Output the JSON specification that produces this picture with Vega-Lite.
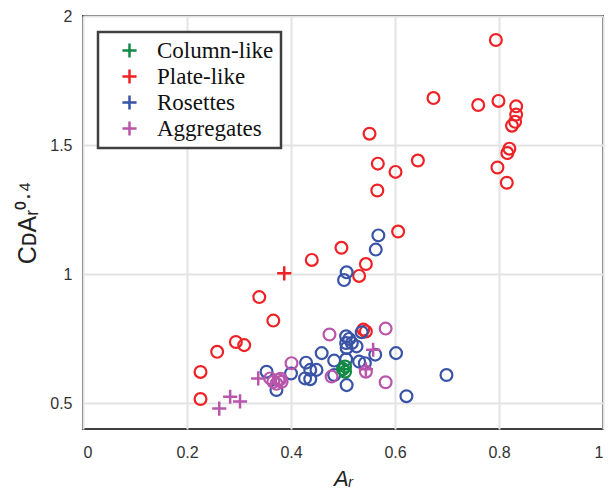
{
  "$schema": "https://vega.github.io/schema/vega-lite/v6.json",
  "autosize": {"type": "none"},
  "padding": {"left": 83, "top": 16, "right": 5, "bottom": 62},
  "width": 520,
  "height": 413,
  "background": "white",
  "config": {
    "view": {"stroke": "#404040", "strokeWidth": 2},
    "axis": {
      "grid": true,
      "gridColor": "#e3e3e3",
      "gridWidth": 2,
      "domain": false,
      "ticks": false,
      "format": "~g",
      "labelFont": "Liberation Sans",
      "labelFontSize": 16,
      "labelColor": "#333333",
      "titleFont": "Liberation Sans",
      "titleFontSize": 21,
      "titleFontWeight": "normal",
      "titleColor": "#222222"
    },
    "legend": {
      "orient": "none",
      "legendX": 15,
      "legendY": 16,
      "strokeColor": "#404040",
      "strokeWidth": 2.5,
      "fillColor": "white",
      "padding": 7,
      "symbolType": "M-1,0H1M0,-1V1",
      "symbolSize": 200,
      "symbolStrokeWidth": 2.5,
      "symbolFillColor": "transparent",
      "symbolOffset": 13,
      "labelFont": "Liberation Serif",
      "labelFontSize": 23,
      "labelColor": "#111111",
      "labelOffset": 16,
      "rowPadding": 1,
      "title": null
    }
  },
  "data": {"values": [
    {"x": 0.794, "y": 1.907, "type": "Plate-like", "m": "o"},
    {"x": 0.674, "y": 1.682, "type": "Plate-like", "m": "o"},
    {"x": 0.760, "y": 1.655, "type": "Plate-like", "m": "o"},
    {"x": 0.799, "y": 1.671, "type": "Plate-like", "m": "o"},
    {"x": 0.833, "y": 1.650, "type": "Plate-like", "m": "o"},
    {"x": 0.833, "y": 1.618, "type": "Plate-like", "m": "o"},
    {"x": 0.831, "y": 1.590, "type": "Plate-like", "m": "o"},
    {"x": 0.825, "y": 1.575, "type": "Plate-like", "m": "o"},
    {"x": 0.551, "y": 1.544, "type": "Plate-like", "m": "o"},
    {"x": 0.820, "y": 1.486, "type": "Plate-like", "m": "o"},
    {"x": 0.816, "y": 1.469, "type": "Plate-like", "m": "o"},
    {"x": 0.567, "y": 1.428, "type": "Plate-like", "m": "o"},
    {"x": 0.644, "y": 1.440, "type": "Plate-like", "m": "o"},
    {"x": 0.601, "y": 1.396, "type": "Plate-like", "m": "o"},
    {"x": 0.797, "y": 1.413, "type": "Plate-like", "m": "o"},
    {"x": 0.566, "y": 1.324, "type": "Plate-like", "m": "o"},
    {"x": 0.815, "y": 1.354, "type": "Plate-like", "m": "o"},
    {"x": 0.606, "y": 1.165, "type": "Plate-like", "m": "o"},
    {"x": 0.497, "y": 1.102, "type": "Plate-like", "m": "o"},
    {"x": 0.440, "y": 1.055, "type": "Plate-like", "m": "o"},
    {"x": 0.544, "y": 1.039, "type": "Plate-like", "m": "o"},
    {"x": 0.531, "y": 0.993, "type": "Plate-like", "m": "o"},
    {"x": 0.339, "y": 0.911, "type": "Plate-like", "m": "o"},
    {"x": 0.366, "y": 0.820, "type": "Plate-like", "m": "o"},
    {"x": 0.294, "y": 0.737, "type": "Plate-like", "m": "o"},
    {"x": 0.310, "y": 0.725, "type": "Plate-like", "m": "o"},
    {"x": 0.258, "y": 0.699, "type": "Plate-like", "m": "o"},
    {"x": 0.226, "y": 0.621, "type": "Plate-like", "m": "o"},
    {"x": 0.226, "y": 0.516, "type": "Plate-like", "m": "o"},
    {"x": 0.539, "y": 0.785, "type": "Plate-like", "m": "o"},
    {"x": 0.544, "y": 0.778, "type": "Plate-like", "m": "o"},
    {"x": 0.387, "y": 1.003, "type": "Plate-like", "m": "+"},
    {"x": 0.568, "y": 1.150, "type": "Rosettes", "m": "o"},
    {"x": 0.563, "y": 1.095, "type": "Rosettes", "m": "o"},
    {"x": 0.507, "y": 1.007, "type": "Rosettes", "m": "o"},
    {"x": 0.502, "y": 0.977, "type": "Rosettes", "m": "o"},
    {"x": 0.536, "y": 0.775, "type": "Rosettes", "m": "o"},
    {"x": 0.506, "y": 0.759, "type": "Rosettes", "m": "o"},
    {"x": 0.512, "y": 0.749, "type": "Rosettes", "m": "o"},
    {"x": 0.506, "y": 0.733, "type": "Rosettes", "m": "o"},
    {"x": 0.517, "y": 0.733, "type": "Rosettes", "m": "o"},
    {"x": 0.526, "y": 0.720, "type": "Rosettes", "m": "o"},
    {"x": 0.507, "y": 0.714, "type": "Rosettes", "m": "o"},
    {"x": 0.562, "y": 0.688, "type": "Rosettes", "m": "o"},
    {"x": 0.602, "y": 0.694, "type": "Rosettes", "m": "o"},
    {"x": 0.459, "y": 0.694, "type": "Rosettes", "m": "o"},
    {"x": 0.483, "y": 0.665, "type": "Rosettes", "m": "o"},
    {"x": 0.506, "y": 0.670, "type": "Rosettes", "m": "o"},
    {"x": 0.531, "y": 0.661, "type": "Rosettes", "m": "o"},
    {"x": 0.542, "y": 0.655, "type": "Rosettes", "m": "o"},
    {"x": 0.507, "y": 0.570, "type": "Rosettes", "m": "o"},
    {"x": 0.622, "y": 0.527, "type": "Rosettes", "m": "o"},
    {"x": 0.699, "y": 0.609, "type": "Rosettes", "m": "o"},
    {"x": 0.429, "y": 0.657, "type": "Rosettes", "m": "o"},
    {"x": 0.437, "y": 0.629, "type": "Rosettes", "m": "o"},
    {"x": 0.449, "y": 0.629, "type": "Rosettes", "m": "o"},
    {"x": 0.427, "y": 0.596, "type": "Rosettes", "m": "o"},
    {"x": 0.437, "y": 0.593, "type": "Rosettes", "m": "o"},
    {"x": 0.353, "y": 0.622, "type": "Rosettes", "m": "o"},
    {"x": 0.372, "y": 0.551, "type": "Rosettes", "m": "o"},
    {"x": 0.400, "y": 0.615, "type": "Rosettes", "m": "o"},
    {"x": 0.483, "y": 0.609, "type": "Rosettes", "m": "o"},
    {"x": 0.474, "y": 0.766, "type": "Aggregates", "m": "o"},
    {"x": 0.582, "y": 0.789, "type": "Aggregates", "m": "o"},
    {"x": 0.401, "y": 0.655, "type": "Aggregates", "m": "o"},
    {"x": 0.478, "y": 0.603, "type": "Aggregates", "m": "o"},
    {"x": 0.544, "y": 0.622, "type": "Aggregates", "m": "o"},
    {"x": 0.582, "y": 0.581, "type": "Aggregates", "m": "o"},
    {"x": 0.360, "y": 0.596, "type": "Aggregates", "m": "o"},
    {"x": 0.376, "y": 0.590, "type": "Aggregates", "m": "o"},
    {"x": 0.382, "y": 0.583, "type": "Aggregates", "m": "o"},
    {"x": 0.366, "y": 0.583, "type": "Aggregates", "m": "o"},
    {"x": 0.372, "y": 0.575, "type": "Aggregates", "m": "o"},
    {"x": 0.380, "y": 0.595, "type": "Aggregates", "m": "o"},
    {"x": 0.558, "y": 0.707, "type": "Aggregates", "m": "+"},
    {"x": 0.544, "y": 0.631, "type": "Aggregates", "m": "+"},
    {"x": 0.337, "y": 0.596, "type": "Aggregates", "m": "+"},
    {"x": 0.283, "y": 0.525, "type": "Aggregates", "m": "+"},
    {"x": 0.302, "y": 0.507, "type": "Aggregates", "m": "+"},
    {"x": 0.262, "y": 0.479, "type": "Aggregates", "m": "+"},
    {"x": 0.504, "y": 0.642, "type": "Column-like", "m": "o"},
    {"x": 0.504, "y": 0.622, "type": "Column-like", "m": "o"},
    {"x": 0.500, "y": 0.632, "type": "Column-like", "m": "o"},
    {"x": 0.502, "y": 0.631, "type": "Column-like", "m": "+"}
  ]},
  "encoding": {
    "x": {
      "field": "x", "type": "quantitative",
      "scale": {"domain": [0, 1], "nice": false, "zero": false},
      "axis": {"values": [0, 0.2, 0.4, 0.6, 0.8, 1], "title": "Aᵣ", "titleFontStyle": "italic", "titleFontSize": 22, "labelPadding": 15, "titlePadding": 8}
    },
    "y": {
      "field": "y", "type": "quantitative",
      "scale": {"domain": [0.4, 2], "nice": false, "zero": false},
      "axis": {"values": [0.5, 1, 1.5, 2], "title": "CᴅAᵣ⁰·⁴", "titleFontSize": 25, "labelPadding": 11, "titlePadding": 9}
    },
    "color": {
      "field": "type", "type": "nominal",
      "scale": {
        "domain": ["Column-like", "Plate-like", "Rosettes", "Aggregates"],
        "range": ["#128a44", "#ee2226", "#3953a6", "#b955aa"]
      },
      "legend": {}
    }
  },
  "layer": [
    {
      "transform": [{"filter": "datum.m === 'o'"}],
      "mark": {"type": "point", "shape": "circle", "filled": false, "size": 140, "strokeWidth": 2.2, "opacity": 1}
    },
    {
      "transform": [{"filter": "datum.m === '+'"}],
      "mark": {"type": "point", "shape": "M-1,0H1M0,-1V1", "filled": false, "size": 200, "strokeWidth": 2.5, "opacity": 1}
    }
  ]
}
